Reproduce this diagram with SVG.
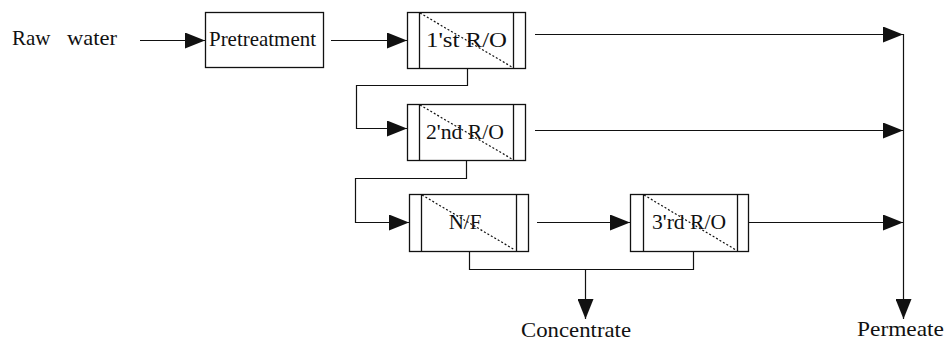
<svg xmlns="http://www.w3.org/2000/svg" width="948" height="341" viewBox="0 0 948 341">
<defs>
<marker id="ah" markerUnits="userSpaceOnUse" markerWidth="20" markerHeight="16" refX="20" refY="8" orient="auto">
<path d="M0,0 L20,8 L0,16 z" fill="#111"/>
</marker>
<style>
.bx{fill:#fff;stroke:#111;stroke-width:1.3}
.bar{stroke:#111;stroke-width:1.3}
.dg{stroke:#111;stroke-width:1.2;stroke-dasharray:2,2}
.ln{fill:none;stroke:#111;stroke-width:1.2}
.ar{marker-end:url(#ah)}
text{font-family:"Liberation Serif","Times New Roman",serif;font-size:21px;fill:#111}
.c{text-anchor:middle}
</style>
</defs>
<rect width="948" height="341" fill="#fff"/>
<g id="connectors">
<line class="ln ar" x1="140" y1="40.5" x2="205" y2="40.5"/>
<line class="ln ar" x1="331" y1="40.5" x2="407" y2="40.5"/>
<polyline class="ln ar" points="467.5,68 467.5,85.5 356.5,85.5 356.5,128.5 407,128.5"/>
<polyline class="ln ar" points="466.5,160 466.5,178.5 355.5,178.5 355.5,222.5 409,222.5"/>
<line class="ln ar" x1="537" y1="222.5" x2="630" y2="222.5"/>
<polyline class="ln" points="469.5,251 469.5,269.5 693.5,269.5 693.5,251"/>
<line class="ln ar" x1="585.5" y1="269.5" x2="585.5" y2="319"/>
<line class="ln ar" x1="535" y1="34.5" x2="903" y2="34.5"/>
<line class="ln ar" x1="535" y1="130.5" x2="903" y2="130.5"/>
<line class="ln ar" x1="537" y1="222.5" x2="903" y2="222.5"/>
<line class="ln ar" x1="903.5" y1="34" x2="903.5" y2="319"/>
</g>
<g id="raw-water">
<text x="12" y="45">Raw <tspan x="67" textLength="50" lengthAdjust="spacingAndGlyphs">water</tspan></text>
</g>
<g id="pretreatment">
<rect class="bx" x="205.5" y="12.5" width="118" height="55"/>
<text x="209" y="46" textLength="107" lengthAdjust="spacingAndGlyphs">Pretreatment</text>
</g>
<g id="ro1">
<rect class="bx" x="407.5" y="12.5" width="118" height="56"/>
<line class="bar" x1="419.5" y1="12.5" x2="419.5" y2="68.5"/>
<line class="bar" x1="513.5" y1="12.5" x2="513.5" y2="68.5"/>
<line class="dg" x1="420" y1="13" x2="512" y2="67"/>
<text x="426" y="47" textLength="81" lengthAdjust="spacingAndGlyphs">1'st R/O</text>
</g>
<g id="ro2">
<rect class="bx" x="407.5" y="104.5" width="118" height="56"/>
<line class="bar" x1="419.5" y1="104.5" x2="419.5" y2="160.5"/>
<line class="bar" x1="513.5" y1="104.5" x2="513.5" y2="160.5"/>
<line class="dg" x1="420" y1="105" x2="512" y2="159"/>
<text x="426" y="139" textLength="78" lengthAdjust="spacingAndGlyphs">2'nd R/O</text>
</g>
<g id="nf">
<rect class="bx" x="409.5" y="194.5" width="119" height="57"/>
<line class="bar" x1="421.5" y1="194.5" x2="421.5" y2="251.5"/>
<line class="bar" x1="516.5" y1="194.5" x2="516.5" y2="251.5"/>
<line class="dg" x1="422" y1="195" x2="515" y2="250"/>
<text class="c" x="465" y="229">N/F</text>
</g>
<g id="ro3">
<rect class="bx" x="630.5" y="194.5" width="118" height="57"/>
<line class="bar" x1="643.5" y1="194.5" x2="643.5" y2="251.5"/>
<line class="bar" x1="737.5" y1="194.5" x2="737.5" y2="251.5"/>
<line class="dg" x1="644" y1="195" x2="736" y2="250"/>
<text x="652" y="229" textLength="74" lengthAdjust="spacingAndGlyphs">3'rd R/O</text>
</g>
<g id="concentrate">
<text x="521" y="337" textLength="110" lengthAdjust="spacingAndGlyphs">Concentrate</text>
</g>
<g id="permeate">
<text x="857" y="336" textLength="87" lengthAdjust="spacingAndGlyphs">Permeate</text>
</g>
</svg>
